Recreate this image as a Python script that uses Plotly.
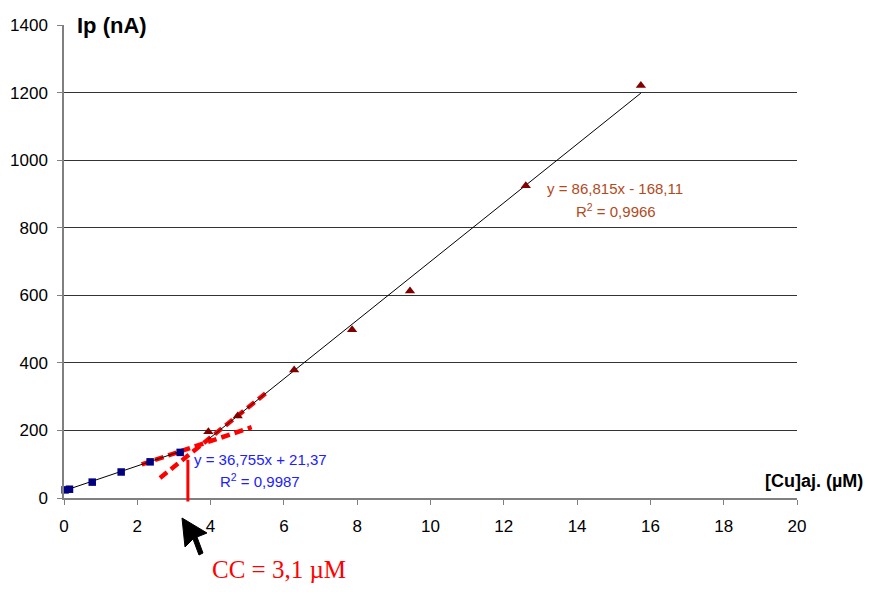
import plotly.graph_objects as go

# Data
x_low = [0.03, 0.15, 0.77, 1.56, 2.35, 3.17]
y_low = [24, 26, 47, 77, 107, 135]
x_high = [3.94, 4.74, 6.28, 7.86, 9.44, 12.6, 15.74]
y_high = [196, 243, 379, 498, 613, 924, 1221]

# Trend line coefficients (from the equations shown)
slope_low, icpt_low = 36.755, 21.37
slope_high, icpt_high = 86.815, -168.11

# Extents of fitted and extrapolated (dotted) segments
fit_low_x = [0.0, 3.17]
fit_high_x = [3.94, 15.74]
ext_low_x = [2.12, 5.12]
ext_high_x = [2.62, 5.57]
cc_x = 3.38
cc_y = [-15, 113]

x_ticks = list(range(0, 21, 2))
y_ticks = list(range(0, 1401, 200))

def line(xs, m, b):
    return [m * v + b for v in xs]

# plot area in screen pixels (page body has an 8px margin)
PL, PR, PT, PB = 64, 797, 25, 498
PW, PH = PR - PL, PB - PT

def px(xp):
    return (xp - PL) / PW

def py(yp):
    return (PB - yp) / PH

fig = go.Figure()
dash = "9px,5px"
fig.add_trace(go.Scatter(x=ext_low_x, y=line(ext_low_x, slope_low, icpt_low), mode="lines",
                         line=dict(color="#ff0000", width=4.5, dash=dash), hoverinfo="skip"))
fig.add_trace(go.Scatter(x=ext_high_x, y=line(ext_high_x, slope_high, icpt_high), mode="lines",
                         line=dict(color="#ff0000", width=4.5, dash=dash), hoverinfo="skip"))
fig.add_trace(go.Scatter(x=fit_low_x, y=line(fit_low_x, slope_low, icpt_low), mode="lines",
                         line=dict(color="black", width=1), hoverinfo="skip"))
fig.add_trace(go.Scatter(x=fit_high_x, y=line(fit_high_x, slope_high, icpt_high), mode="lines",
                         line=dict(color="black", width=1), hoverinfo="skip"))
fig.add_trace(go.Scatter(x=x_low, y=y_low, mode="markers",
                         marker=dict(symbol="square", size=7.5, color="#000080"), cliponaxis=False))
fig.add_trace(go.Scatter(x=x_high, y=y_high, mode="markers",
                         marker=dict(symbol="triangle-up", size=9, color="#800000"), cliponaxis=False))

font = "Liberation Sans, Arial, sans-serif"
ann = []
# vertical red line
ann.append(dict(x=cc_x, y=cc_y[1], ax=cc_x, ay=cc_y[0], axref="x", ayref="y", xref="x", yref="y",
                text="", showarrow=True, arrowhead=0, arrowwidth=3, arrowcolor="#ff0000"))
ann.append(dict(x=px(192), y=py(459), xref="paper", yref="paper", xanchor="left", yanchor="middle",
                showarrow=False, text="y = 36,755x + 21,37", font=dict(family=font, size=15, color="#2020ff")))
ann.append(dict(x=px(260), y=py(480), xref="paper", yref="paper", xanchor="center", yanchor="middle",
                showarrow=False, text="R<sup>2</sup> = 0,9987", font=dict(family=font, size=15, color="#2020ff")))
ann.append(dict(x=px(615), y=py(188), xref="paper", yref="paper", xanchor="center", yanchor="middle",
                showarrow=False, text="y = 86,815x - 168,11", font=dict(family=font, size=15, color="#b24a1e")))
ann.append(dict(x=px(616), y=py(210), xref="paper", yref="paper", xanchor="center", yanchor="middle",
                showarrow=False, text="R<sup>2</sup> = 0,9966", font=dict(family=font, size=15, color="#b24a1e")))
ann.append(dict(x=px(75), y=py(25), xref="paper", yref="paper", xanchor="left", yanchor="middle",
                showarrow=False, text="<b>Ip (nA)</b>", font=dict(family=font, size=22, color="black")))
ann.append(dict(x=px(865), y=py(481), xref="paper", yref="paper", xanchor="right", yanchor="middle",
                showarrow=False, text="<b>[Cu]aj. (µM)</b>", font=dict(family=font, size=18, color="black")))
ann.append(dict(x=px(279), y=py(584), xref="paper", yref="paper", xanchor="center",
                yanchor="bottom", showarrow=False, text="CC = 3,1 µM", borderpad=0,
                font=dict(family="Liberation Serif, Times New Roman, serif", size=25, color="#ff0000")))

# black pointer (cursor-like arrow) as a filled path in paper coordinates
cursor_pts = [(182, 518), (207, 533), (197, 537), (203, 553), (199, 555), (193, 539), (185, 547)]
path = "M " + " L ".join(f"{px(a):.5f},{py(b):.5f}" for a, b in cursor_pts) + " Z"
shapes = [dict(type="path", xref="paper", yref="paper", path=path,
               fillcolor="black", line=dict(color="black", width=1))]

# figure sized so that page (with 8px body margin) fits the 874x592 window without scrollbars
W, H = 858, 576
fig.update_layout(
    width=W, height=H,
    margin=dict(l=PL - 8, r=W - (PR - 8), t=PT - 8, b=H - (PB - 8)),
    plot_bgcolor="white", paper_bgcolor="white",
    showlegend=False,
    annotations=ann,
    shapes=shapes,
    xaxis=dict(range=[0, 20], tickvals=x_ticks, showgrid=False, zeroline=False, automargin=False,
               showline=True, linecolor="#808080", linewidth=1.5,
               ticks="outside", ticklen=5, tickcolor="#808080", ticklabelstandoff=7,
               tickfont=dict(family=font, size=17, color="black")),
    yaxis=dict(range=[0, 1400], tickvals=y_ticks, showgrid=True, gridcolor="#333333", gridwidth=1,
               zeroline=False, showline=True, linecolor="#808080", linewidth=1.5, automargin=False,
               ticks="outside", ticklen=5, tickcolor="#808080", ticklabelstandoff=6,
               tickfont=dict(family=font, size=17, color="black")),
)

fig.write_html("out.html")
